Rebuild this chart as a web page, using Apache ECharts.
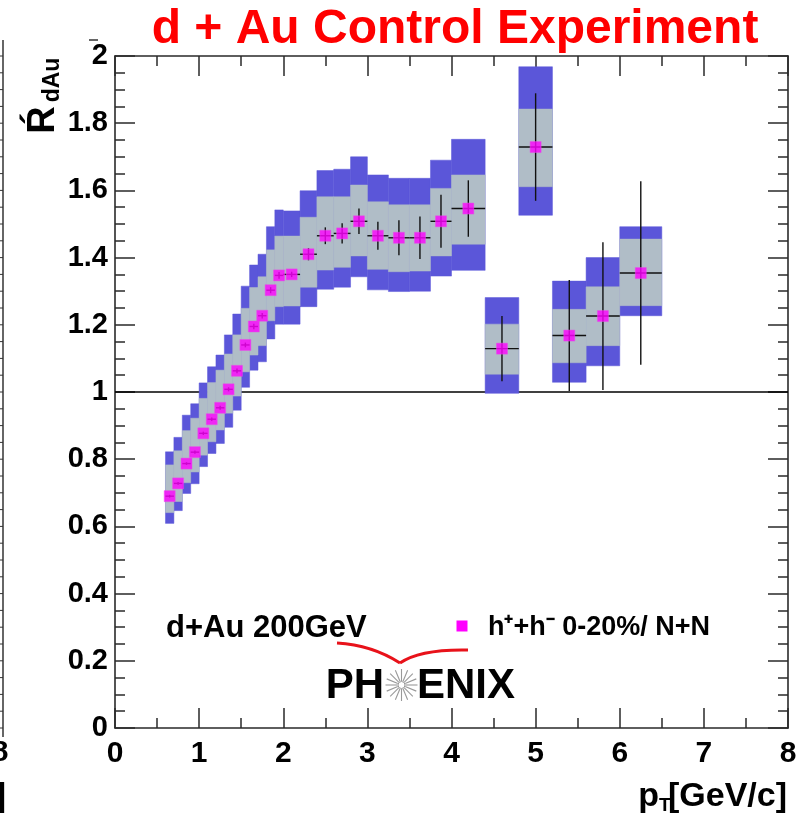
<!DOCTYPE html>
<html>
<head>
<meta charset="utf-8">
<script src="https://cdn.jsdelivr.net/npm/echarts@6/dist/echarts.min.js"></script>
<style>
html,body{margin:0;padding:0;background:#fff;}
#chart{width:800px;height:816px;}
</style>
</head>
<body>
<div id="chart"></div>
<script>
// ---- data ----
const xTicks = [0, 1, 2, 3, 4, 5, 6, 7, 8];
const yTicks = [0, 0.2, 0.4, 0.6, 0.8, 1, 1.2, 1.4, 1.6, 1.8, 2];
const ptCenter = [0.65,0.75,0.85,0.95,1.05,1.15,1.25,1.35,1.45,1.55,1.65,1.75,1.85,1.95,2.1,2.3,2.5,2.7,2.9,3.125,3.375,3.625,3.875,4.2,4.6,5.0,5.4,5.8,6.25];
const ptLow    = [0.6,0.7,0.8,0.9,1.0,1.1,1.2,1.3,1.4,1.5,1.6,1.7,1.8,1.9,2.0,2.2,2.4,2.6,2.8,3.0,3.25,3.5,3.75,4.0,4.4,4.8,5.2,5.6,6.0];
const ptHigh   = [0.7,0.8,0.9,1.0,1.1,1.2,1.3,1.4,1.5,1.6,1.7,1.8,1.9,2.0,2.2,2.4,2.6,2.8,3.0,3.25,3.5,3.75,4.0,4.4,4.8,5.2,5.6,6.0,6.5];
const rdAu     = [0.690,0.728,0.787,0.821,0.877,0.919,0.953,1.008,1.063,1.140,1.195,1.227,1.303,1.347,1.350,1.410,1.465,1.472,1.508,1.465,1.459,1.459,1.508,1.546,1.129,1.729,1.168,1.226,1.354];
const statErr  = [0.004,0.004,0.004,0.005,0.005,0.005,0.006,0.006,0.007,0.007,0.008,0.008,0.009,0.010,0.008,0.018,0.025,0.030,0.038,0.042,0.052,0.063,0.079,0.084,0.097,0.160,0.165,0.220,0.273];
const sysGrayLow  = [0.641,0.674,0.730,0.762,0.812,0.852,0.887,0.937,0.988,1.060,1.110,1.138,1.212,1.254,1.256,1.312,1.363,1.371,1.405,1.365,1.358,1.360,1.405,1.440,1.053,1.611,1.087,1.138,1.257];
const sysGrayHigh = [0.783,0.825,0.885,0.922,0.981,1.028,1.065,1.113,1.170,1.249,1.311,1.343,1.423,1.464,1.464,1.520,1.581,1.581,1.616,1.566,1.557,1.557,1.606,1.646,1.202,1.842,1.246,1.313,1.455];
const sysBlueLow  = [0.609,0.647,0.698,0.727,0.778,0.817,0.847,0.895,0.946,1.014,1.065,1.090,1.158,1.202,1.202,1.254,1.306,1.312,1.343,1.304,1.299,1.300,1.345,1.362,0.996,1.526,1.029,1.078,1.227];
const sysBlueHigh = [0.822,0.865,0.931,0.965,1.027,1.075,1.110,1.170,1.232,1.315,1.378,1.410,1.492,1.542,1.539,1.599,1.659,1.663,1.700,1.646,1.636,1.636,1.690,1.752,1.281,1.968,1.330,1.400,1.492];
const refLevel = 1;
const titleText = 'd + Au Control Experiment';
const legendSystem = 'd+Au 200GeV';
const legendSeries = 'h⁺+h⁻ 0-20%/ N+N';

// ---- build chart ----
const FONT = '"Liberation Sans", Arial, Helvetica, sans-serif';
const NFONT = '"Liberation Sans Narrow", "Arial Narrow", "Liberation Sans", Arial, sans-serif';
const BLUE = '#5b56d9';
const GRAY = '#b0bdc7';
const AXC = '#2a2a2a';

const blueData = ptCenter.map((p, i) => [ptLow[i], ptHigh[i], sysBlueLow[i], sysBlueHigh[i]]);
const grayData = ptCenter.map((p, i) => [ptLow[i], ptHigh[i], sysGrayLow[i], sysGrayHigh[i]]);
const errData  = ptCenter.map((p, i) => [p, rdAu[i], ptLow[i], ptHigh[i], statErr[i]]);
const ptData   = ptCenter.map((p, i) => [p, rdAu[i]]);

function boxRenderer(color) {
  return function (params, api) {
    const a = api.coord([api.value(0), api.value(3)]);
    const b = api.coord([api.value(1), api.value(2)]);
    return {
      type: 'rect',
      shape: { x: a[0], y: a[1], width: b[0] - a[0], height: b[1] - a[1] },
      style: { fill: color, stroke: color, lineWidth: 0.5 }
    };
  };
}

function errRenderer(params, api) {
  const x = api.value(0), y = api.value(1), xl = api.value(2), xh = api.value(3), e = api.value(4);
  const top = api.coord([x, y + e]);
  const bot = api.coord([x, y - e]);
  const left = api.coord([xl, y]);
  const right = api.coord([xh, y]);
  const st = { stroke: '#111', lineWidth: 1.4 };
  return {
    type: 'group',
    children: [
      { type: 'line', shape: { x1: top[0], y1: top[1], x2: bot[0], y2: bot[1] }, style: st },
      { type: 'line', shape: { x1: left[0], y1: left[1], x2: right[0], y2: right[1] }, style: st }
    ]
  };
}

const axisCommon = {
  type: 'value',
  axisLine: { show: true, onZero: false, lineStyle: { color: AXC, width: 1.6 } },
  axisTick: { show: true, inside: true, length: 20, lineStyle: { color: AXC, width: 1.5 } },
  minorTick: { show: true, length: 10, lineStyle: { color: AXC, width: 1.5 } },
  splitLine: { show: false },
  minorSplitLine: { show: false }
};

const xLabelFmt = v => (xTicks.indexOf(v) >= 0 ? String(v) : '');
const yLabelFmt = v => {
  const t = yTicks.find(k => Math.abs(k - v) < 1e-9);
  return t === undefined ? '' : String(t);
};

// starburst rays
const burst = [];
const cx = 401.5, cy = 685;
for (let k = 0; k < 16; k++) {
  const ang = k * Math.PI / 8;
  burst.push({
    type: 'line',
    shape: { x1: cx + 4 * Math.cos(ang), y1: cy + 4 * Math.sin(ang), x2: cx + 16 * Math.cos(ang), y2: cy + 16 * Math.sin(ang) },
    style: { stroke: '#999', lineWidth: 1.1 }
  });
}
burst.push({ type: 'circle', shape: { cx: cx, cy: cy, r: 3.5 }, style: { fill: '#fff', stroke: '#999', lineWidth: 1 } });

// left neighbouring-panel edge
const edge = [{ type: 'line', shape: { x1: 3, y1: 40, x2: 3, y2: 737 }, style: { stroke: '#333', lineWidth: 1.5 } }];
for (let yy = 56; yy <= 730; yy += 16.8) {
  edge.push({ type: 'line', shape: { x1: 0, y1: yy, x2: 3, y2: yy }, style: { stroke: '#333', lineWidth: 1 } });
}

const option = {
  animation: false,
  backgroundColor: '#fff',
  grid: { left: 115, right: 12, top: 56, bottom: 88, containLabel: false },
  xAxis: [
    Object.assign({}, axisCommon, {
      min: 0, max: 8, interval: 1, position: 'bottom',
      minorTick: Object.assign({}, axisCommon.minorTick, { splitNumber: 2 }),
      axisLabel: { show: true, formatter: xLabelFmt, color: '#000', fontFamily: NFONT, fontWeight: 'bold', fontSize: 30, margin: 11 }
    }),
    Object.assign({}, axisCommon, {
      min: 0, max: 8, interval: 1, position: 'top',
      minorTick: Object.assign({}, axisCommon.minorTick, { splitNumber: 2 }),
      axisLabel: { show: false }
    })
  ],
  yAxis: [
    Object.assign({}, axisCommon, {
      min: 0, max: 2, interval: 0.2, position: 'left',
      minorTick: Object.assign({}, axisCommon.minorTick, { splitNumber: 4 }),
      axisLabel: { show: true, formatter: yLabelFmt, color: '#000', fontFamily: FONT, fontWeight: 'bold', fontSize: 29, margin: 7 }
    }),
    Object.assign({}, axisCommon, {
      min: 0, max: 2, interval: 0.2, position: 'right',
      minorTick: Object.assign({}, axisCommon.minorTick, { splitNumber: 4 }),
      axisLabel: { show: false }
    })
  ],
  series: [
    {
      type: 'line', name: 'ref', data: [[0, refLevel], [8, refLevel]], xAxisIndex: 0, yAxisIndex: 0,
      showSymbol: false, symbol: 'none', lineStyle: { color: '#000', width: 1.5 }, z: 1, silent: true
    },
    {
      type: 'custom', name: 'sysBlue', data: blueData, renderItem: boxRenderer(BLUE),
      encode: { x: [0, 1], y: [2, 3] }, z: 2, silent: true
    },
    {
      type: 'custom', name: 'sysGray', data: grayData, renderItem: boxRenderer(GRAY),
      encode: { x: [0, 1], y: [2, 3] }, z: 3, silent: true
    },
    {
      type: 'custom', name: 'stat', data: errData, renderItem: errRenderer,
      encode: { x: [0, 2, 3], y: [1, 4] }, z: 4, silent: true
    },
    {
      type: 'scatter', name: 'h', data: ptData, symbol: 'rect', symbolSize: 11,
      itemStyle: { color: '#ff00ff', borderColor: '#e84ee8', borderWidth: 0.6 }, z: 5, silent: true
    }
  ],
  graphic: [
    { type: 'text', x: 455, y: 30, style: { text: titleText, fill: '#ff0000', font: 'bold 48px ' + FONT, align: 'center', verticalAlign: 'middle' } },
    { type: 'text', x: 44, y: 120, rotation: Math.PI / 2, style: { text: 'Ŕ', fill: '#000', font: 'bold 38px ' + FONT, align: 'center', verticalAlign: 'middle' } },
    { type: 'text', x: 53, y: 80, rotation: Math.PI / 2, style: { text: 'dAu', fill: '#000', font: 'bold 23px ' + FONT, align: 'center', verticalAlign: 'middle' } },
    { type: 'line', shape: { x1: 89, y1: 40, x2: 98, y2: 40 }, style: { stroke: '#666', lineWidth: 2 } },
    { type: 'text', x: 787, y: 797, style: { text: '[GeV/c]', fill: '#000', font: 'bold 34px ' + NFONT, align: 'right', verticalAlign: 'middle' } },
    { type: 'text', x: 659, y: 806, style: { text: 'T', fill: '#000', font: 'bold 19px ' + NFONT, align: 'left', verticalAlign: 'middle' } },
    { type: 'text', x: 659, y: 797, style: { text: 'p', fill: '#000', font: 'bold 34px ' + NFONT, align: 'right', verticalAlign: 'middle' } },
    { type: 'text', x: 166, y: 628, style: { text: legendSystem, fill: '#000', font: 'bold 31px ' + FONT, align: 'left', verticalAlign: 'middle' } },
    { type: 'rect', shape: { x: 456.5, y: 620.5, width: 11, height: 11 }, style: { fill: '#ff00ff' } },
    { type: 'text', x: 488, y: 628, style: { text: legendSeries, fill: '#000', font: 'bold 27px ' + FONT, align: 'left', verticalAlign: 'middle' } },
    { type: 'bezierCurve', shape: { x1: 337, y1: 643, cpx1: 372, cpy1: 645, x2: 400, y2: 663 }, style: { stroke: '#e8121a', lineWidth: 3, fill: null } },
    { type: 'bezierCurve', shape: { x1: 400, y1: 663, cpx1: 420, cpy1: 649, x2: 468, y2: 650 }, style: { stroke: '#e8121a', lineWidth: 3, fill: null } },
    { type: 'text', x: 384, y: 686, style: { text: 'PH', fill: '#000', font: 'bold 42px ' + FONT, align: 'right', verticalAlign: 'middle' } },
    { type: 'text', x: 417, y: 686, style: { text: 'ENIX', fill: '#000', font: 'bold 42px ' + FONT, align: 'left', verticalAlign: 'middle' } },
    { type: 'group', children: burst },
    { type: 'group', children: edge },
    { type: 'text', x: 0, y: 753, style: { text: '8', fill: '#000', font: 'bold 30px ' + NFONT, align: 'center', verticalAlign: 'middle' } },
    { type: 'text', x: 6, y: 797, style: { text: ']', fill: '#000', font: 'bold 34px ' + NFONT, align: 'right', verticalAlign: 'middle' } }
  ]
};

const chart = echarts.init(document.getElementById('chart'), null, { renderer: 'canvas' });
chart.setOption(option);
</script>
</body>
</html>
